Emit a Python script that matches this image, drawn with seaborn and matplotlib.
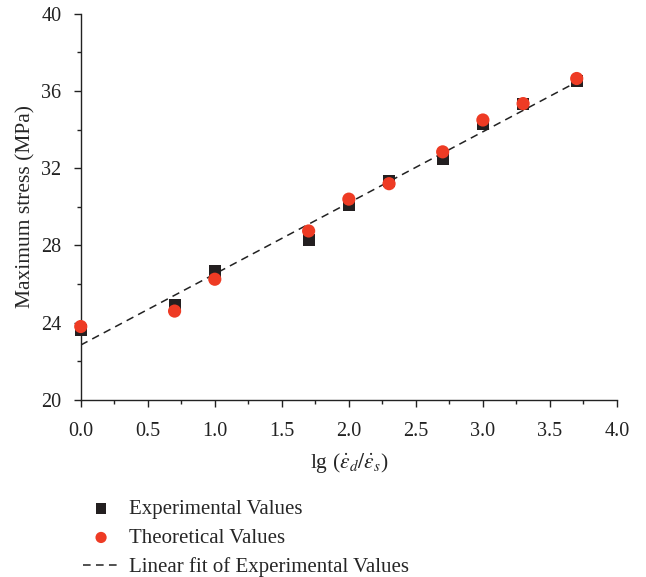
import matplotlib
matplotlib.use("Agg")
import matplotlib.pyplot as plt
import seaborn as sns
import pandas as pd
import numpy as np
from matplotlib.ticker import MultipleLocator

# Data
strain_rate_lg = [0.0, 0.7, 1.0, 1.7, 2.0, 2.3, 2.7, 3.0, 3.3, 3.7]
experimental = [23.6, 24.9, 26.65, 28.3, 30.1, 31.35, 32.5, 34.3, 35.35, 36.5]
theoretical = [23.8, 24.6, 26.25, 28.75, 30.4, 31.2, 32.85, 34.5, 35.35, 36.65]

df = pd.DataFrame({"x": strain_rate_lg, "exp": experimental, "theo": theoretical})

sns.set_style("ticks")
plt.rcParams["font.family"] = ["Liberation Serif", "DejaVu Serif"]
plt.rcParams["mathtext.fontset"] = "stix"

fig = plt.figure(figsize=(6.46, 5.77), dpi=100)
ax = fig.add_axes([0.125, 0.307, 0.830, 0.669])

sns.regplot(data=df, x="x", y="exp", ax=ax, scatter=False, ci=None,
            line_kws=dict(color="#222222", lw=1.1, ls=(0, (5, 3.5))),
            label="Linear fit of Experimental Values")
sns.scatterplot(data=df, x="x", y="exp", ax=ax, marker="s", s=75,
                color="#231f20", edgecolor="none", label="Experimental Values",
                zorder=3, clip_on=False)
sns.scatterplot(data=df, x="x", y="theo", ax=ax, marker="o", s=90,
                color="#ee3b24", edgecolor="none", label="Theoretical Values",
                zorder=4, clip_on=False)

ax.set_xlim(0, 4.0)
ax.set_ylim(20, 40)
ax.xaxis.set_major_locator(MultipleLocator(0.5))
ax.xaxis.set_minor_locator(MultipleLocator(0.25))
ax.yaxis.set_major_locator(MultipleLocator(4))
ax.yaxis.set_minor_locator(MultipleLocator(2))
ax.xaxis.set_major_formatter(matplotlib.ticker.FormatStrFormatter("%.1f"))
ax.tick_params(which="major", length=5, width=1, labelsize=14.5, colors="#222222")
ax.tick_params(axis="x", which="major", pad=11)
ax.tick_params(axis="y", which="major", pad=9)
ax.tick_params(which="minor", length=3, width=1, colors="#222222")
for s in ["left", "bottom"]:
    ax.spines[s].set_color("#222222")
    ax.spines[s].set_linewidth(1)
sns.despine(ax=ax)

ax.set_xlabel(r"lg ($\dot{\varepsilon}_d/\dot{\varepsilon}_s$)", fontsize=15.5, labelpad=7)
ax.set_ylabel("Maximum stress (MPa)", fontsize=15.5, labelpad=4)

handles, labels = ax.get_legend_handles_labels()
order = [labels.index("Experimental Values"), labels.index("Theoretical Values"),
         labels.index("Linear fit of Experimental Values")]
if ax.get_legend():
    ax.get_legend().remove()
fig.legend([handles[i] for i in order], [labels[i] for i in order],
           loc="upper left", bbox_to_anchor=(0.10, 0.167), frameon=False,
           fontsize=15, handlelength=1.7, handletextpad=0.5, labelspacing=0.45,
           markerscale=0.85)

fig.savefig("out.png", dpi=100)
